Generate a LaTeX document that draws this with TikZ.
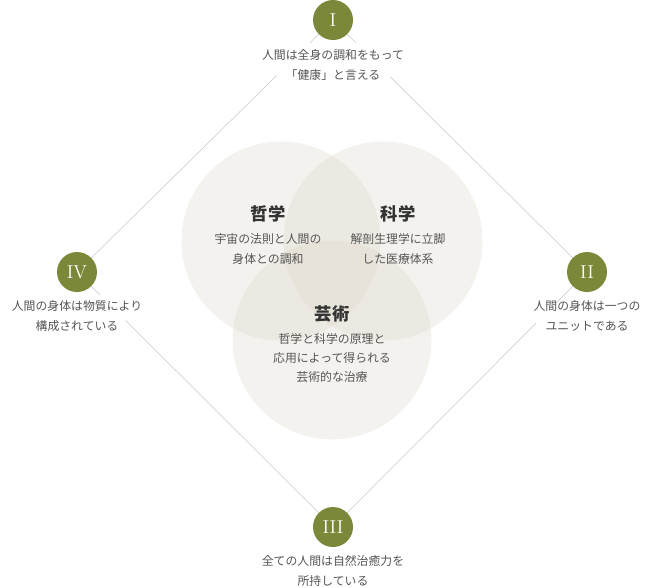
\documentclass[tikz,border=0pt]{standalone}
\usepackage{fontspec}
\usetikzlibrary{calc}
\newfontfamily\jpfont{Noto Sans CJK JP}
\definecolor{numgreen}{RGB}{123,135,57}
\definecolor{vennbeige}{RGB}{218,212,198}
\definecolor{bodygrey}{RGB}{85,85,85}
\definecolor{headgrey}{RGB}{51,51,51}
\definecolor{rulegrey}{RGB}{200,200,200}
\tikzset{
	numdot/.style={circle, fill=numgreen, minimum size=30pt, inner sep=0pt, text=white, font=\fontsize{14}{14}\selectfont},
	venn/.style={fill=vennbeige, fill opacity=0.3},
	diag/.style={draw=rulegrey, line width=0.4pt},
	note/.style={align=center, text=bodygrey, inner sep=0pt, font=\jpfont\fontsize{8.9}{14.6}\selectfont},
	head/.style={text=headgrey, inner sep=0pt, font=\jpfont\bfseries\fontsize{13}{13}\selectfont},
}

\begin{document}
\begin{tikzpicture}[x=0.75pt,y=0.75pt,yscale=-1,xscale=1]
	\useasboundingbox (0,0) rectangle (663,587);
	% venn
	\fill [venn] (281,241) circle (99.5);
	\fill [venn] (383,241) circle (99.5);
	\fill [venn] (332,340) circle (99.5);
	% corners
	\coordinate (top) at (333,20);
	\coordinate (right) at (587,272);
	\coordinate (bottom) at (333,527);
	\coordinate (left) at (77,272);
	\coordinate (tla) at ($(top)!0.09!(left)$);
	\coordinate (tlb) at ($(top)!0.22!(left)$);
	\coordinate (tra) at ($(top)!0.09!(right)$);
	\coordinate (trb) at ($(top)!0.225!(right)$);
	\coordinate (bla) at ($(left)!0.09!(bottom)$);
	\coordinate (blb) at ($(left)!0.19!(bottom)$);
	\coordinate (bra) at ($(bottom)!0.80!(right)$);
	\coordinate (brb) at ($(bottom)!0.88!(right)$);
	\draw [diag] (top) -- (tla);
	\draw [diag] (tlb) -- (left);
	\draw [diag] (top) -- (tra);
	\draw [diag] (trb) -- (right);
	\draw [diag] (left) -- (bla);
	\draw [diag] (blb) -- (bottom);
	\draw [diag] (bottom) -- (bra);
	\draw [diag] (brb) -- (right);
	\node [numdot] (one) at (top) {I};
	\node [numdot] (two) at (right) {II};
	\node [numdot] (three) at (bottom) {III};
	\node [numdot] (four) at (left) {IV};
	% notes
	\node [note] (onetext) at (333,65) {人間は全身の調和をもって\\「健康」と言える};
	\node [note] (twotext) at (587,316) {人間の身体は一つの\\ユニットである};
	\node [note] (threetext) at (333,571) {全ての人間は自然治癒力を\\所持している};
	\node [note] (fourtext) at (77,316) {人間の身体は物質により\\構成されている};
	% venn labels
	\node [head] (phil) at (268,214) {哲学};
	\node [note] (philtext) at (268,249) {宇宙の法則と人間の\\身体との調和};
	\node [head] (sci) at (398,214) {科学};
	\node [note] (scitext) at (398,249) {解剖生理学に立脚\\した医療体系};
	\node [head] (art) at (332,314) {芸術};
	\node [note] (arttext) at (332,358) {哲学と科学の原理と\\応用によって得られる\\芸術的な治療};
\end{tikzpicture}
\end{document}
